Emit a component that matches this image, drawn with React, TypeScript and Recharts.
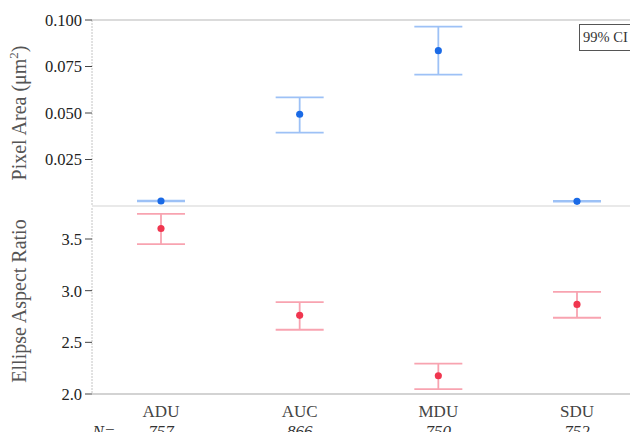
import {
  ComposedChart,
  ErrorBar,
  ReferenceLine,
  Scatter,
  XAxis,
  YAxis,
  ZAxis,
} from "recharts";

const groups = ["ADU", "AUC", "MDU", "SDU"];
const counts = [757, 866, 750, 752];

// pixel area, 99% CI
const areaMean = [0.0027, 0.0493, 0.0835, 0.0025];
const areaLow = [0.0025, 0.0395, 0.0706, 0.0023];
const areaHigh = [0.0029, 0.0584, 0.0964, 0.0027];
const areaTicks = [0.025, 0.05, 0.075, 0.1];

// ellipse aspect ratio, 99% CI
const ratioMean = [3.602, 2.761, 2.177, 2.867];
const ratioLow = [3.45, 2.622, 2.048, 2.738];
const ratioHigh = [3.744, 2.89, 2.293, 2.989];
const ratioTicks = [2.0, 2.5, 3.0, 3.5];

const SERIF = '"Liberation Serif", "Times New Roman", serif';
const BLUE = "#1a6ae6";
const BLUE_LIGHT = "#9dc1f6";
const RED = "#f0364f";
const RED_LIGHT = "#f8a3b0";

const areaData = groups.map((g, i) => ({
  group: g,
  mean: areaMean[i],
  err: [areaMean[i] - areaLow[i], areaHigh[i] - areaMean[i]],
}));

const ratioData = groups.map((g, i) => ({
  group: g,
  mean: ratioMean[i],
  err: [ratioMean[i] - ratioLow[i], ratioHigh[i] - ratioMean[i]],
}));

function AxisTitle(props: any) {
  const { viewBox, children } = props;
  const cx = 26;
  const cy = viewBox.y + viewBox.height / 2;
  return (
    <text
      x={cx}
      y={cy}
      transform={`rotate(-90 ${cx} ${cy})`}
      textAnchor="middle"
      fontSize={20}
      fontFamily={SERIF}
      fill="#555"
    >
      {children}
    </text>
  );
}

function GroupTick(props: any) {
  const { x, y, payload, index } = props;
  return (
    <g fontFamily={SERIF} fontSize={17}>
      <text x={x} y={y + 23} textAnchor="middle" fill="#444" fontFamily={SERIF}>
        {payload.value}
      </text>
      <text x={x} y={y + 43} textAnchor="middle" fontStyle="italic" fill="#333" fontFamily={SERIF}>
        {counts[index]}
      </text>
      {index === 0 && (
        <text x={x - 57} y={y + 43} textAnchor="middle" fontStyle="italic" fill="#333" fontFamily={SERIF}>
          N=
        </text>
      )}
    </g>
  );
}

const yTick = { fontFamily: SERIF, fontSize: 16.5, fill: "#222" };
const xPad = { left: 69, right: 69 };

export default function App() {
  return (
    <div
      style={{
        position: "relative",
        width: 638,
        height: 440,
        margin: -8,
        overflow: "hidden",
        background: "#fff",
        fontFamily: SERIF,
      }}
    >
      <div style={{ position: "absolute", left: 0, top: 0 }}>
        <ComposedChart
          width={660}
          height={207}
          data={areaData}
          margin={{ top: 20, right: 14, left: 0, bottom: 1 }}
          style={{ fontFamily: SERIF }}
        >
          <XAxis dataKey="group" type="category" hide padding={xPad} />
          <YAxis
            dataKey="mean"
            type="number"
            domain={[0, 0.1]}
            ticks={areaTicks}
            tickFormatter={(v: number) => v.toFixed(3)}
            width={92}
            tick={yTick}
            tickSize={7}
            tickMargin={3}
            tickLine={{ stroke: "#444" }}
            axisLine={{ stroke: "#c4c4c4", strokeDasharray: "2 1" }}
            allowDataOverflow
            label={
              <AxisTitle>
                Pixel Area (μm
                <tspan dy={-8} fontSize={13}>
                  2
                </tspan>
                <tspan dy={8}>)</tspan>
              </AxisTitle>
            }
          />
          <ZAxis range={[40, 40]} />
          <ReferenceLine y={0.1} stroke="#cfcfcf" strokeWidth={1.5} />
          <ReferenceLine y={0} stroke="#e2e2e2" strokeWidth={1.5} />
          <Scatter dataKey="mean" fill={BLUE} isAnimationActive={false}>
            <ErrorBar
              dataKey="err"
              direction="y"
              width={24}
              stroke={BLUE_LIGHT}
              strokeWidth={1.8}
              isAnimationActive={false}
            />
          </Scatter>
        </ComposedChart>
      </div>

      <div style={{ position: "absolute", left: 0, top: 207 }}>
        <ComposedChart
          width={660}
          height={233}
          data={ratioData}
          margin={{ top: 1, right: 14, left: 0, bottom: 0 }}
          style={{ fontFamily: SERIF }}
        >
          <XAxis
            dataKey="group"
            type="category"
            height={46}
            padding={xPad}
            tickLine={false}
            tickSize={0}
            tickMargin={0}
            axisLine={{ stroke: "#c4c4c4", strokeWidth: 1.5 }}
            tick={<GroupTick />}
            interval={0}
          />
          <YAxis
            dataKey="mean"
            type="number"
            domain={[2.0, 3.8]}
            ticks={ratioTicks}
            tickFormatter={(v: number) => v.toFixed(1)}
            width={92}
            tick={yTick}
            tickSize={7}
            tickMargin={3}
            tickLine={{ stroke: "#444" }}
            axisLine={{ stroke: "#c4c4c4", strokeDasharray: "2 1" }}
            allowDataOverflow
            label={<AxisTitle>Ellipse Aspect Ratio</AxisTitle>}
          />
          <ZAxis range={[40, 40]} />
          <Scatter dataKey="mean" fill={RED} isAnimationActive={false}>
            <ErrorBar
              dataKey="err"
              direction="y"
              width={24}
              stroke={RED_LIGHT}
              strokeWidth={1.8}
              isAnimationActive={false}
            />
          </Scatter>
        </ComposedChart>
      </div>

      <div
        style={{
          position: "absolute",
          left: 579,
          top: 24,
          width: 70,
          height: 27,
          border: "1px solid #555",
          fontFamily: SERIF,
          fontSize: 14.5,
          lineHeight: "25px",
          color: "#333",
          paddingLeft: 3,
          boxSizing: "border-box",
          whiteSpace: "nowrap",
        }}
      >
        99% CI
      </div>
    </div>
  );
}
